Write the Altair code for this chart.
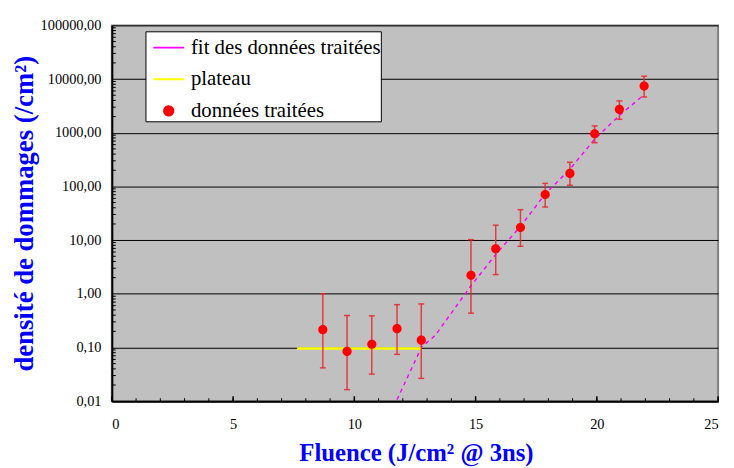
import altair as alt
import pandas as pd

# --- data ---
fluence = [8.70, 9.70, 10.72, 11.76, 12.76, 14.81, 15.83, 16.85, 17.87, 18.89, 19.91, 20.93, 21.95]
densite = [0.215, 0.0845, 0.115, 0.224, 0.137, 2.21, 6.88, 17.2, 70.8, 175, 953, 2720, 7400]
err_haut = [1.0, 0.394, 0.389, 0.628, 0.648, 10.2, 19.0, 36.9, 114, 282, 1340, 3920, 11300]
err_bas = [0.0417, 0.0164, 0.0319, 0.0745, 0.0266, 0.436, 2.28, 7.68, 41.3, 105, 651, 1780, 4640]

plateau_x = [7.64, 12.78]
plateau_y = [0.096, 0.096]

fit_x = [11.76, 12.78, 13.34, 14.81, 15.83, 16.85, 17.87, 18.89, 19.91, 20.93, 21.95]
fit_y = [0.0107, 0.103, 0.169, 1.41, 5.4, 18, 72, 210, 760, 2100, 5130]

series_names = ["fit des données traitées", "plateau", "données traitées"]
series_colors = ["#ff00ff", "#ffff00", "#ff0000"]
# small circle as a custom path (scaled by the symbol size), line symbols for the two curves
DOT = "M0.3,0 A0.3,0.3 0 1,1 -0.3,0 A0.3,0.3 0 1,1 0.3,0 Z"
series_shapes = ["stroke", "stroke", DOT]

y_tick_values = [0.01, 0.1, 1, 10, 100, 1000, 10000, 100000]
x_tick_values = [0, 5, 10, 15, 20, 25]
x_minor_values = list(range(0, 26))
y_minor_multipliers = [2, 3, 4, 5, 6, 7, 8, 9]

W, H = 613, 380
FONT = "Liberation Serif"
SYM = 961

pts = pd.DataFrame({"x": fluence, "y": densite, "hi": err_haut, "lo": err_bas,
                    "serie": series_names[2]})
plat = pd.DataFrame({"x": plateau_x, "y": plateau_y, "serie": series_names[1]})
fit = pd.DataFrame({"x": fit_x, "y": fit_y, "serie": series_names[0]})
xminor = pd.DataFrame({"x": x_minor_values})
xmajor = pd.DataFrame({"x": x_tick_values})
yminor = pd.DataFrame({"y": [m * d for d in y_tick_values[:-1] for m in y_minor_multipliers]})

xscale = alt.Scale(domain=[0, 25], nice=False)
yscale = alt.Scale(type="log", domain=[0.01, 100000], nice=False)

x_axis = alt.Axis(values=x_tick_values, format="d", grid=False, tickSize=0,
                  domainColor="#000000", domainWidth=2,
                  labelFont=FONT, labelFontSize=14.5, labelColor="#000000",
                  labelBaseline="alphabetic", labelPadding=28,
                  title="Fluence (J/cm² @ 3ns)", titleFont=FONT, titleFontSize=25,
                  titleFontWeight="bold", titleColor="#0000ff",
                  titleX=W / 2 + 1, titleY=60, titleAlign="center", titleBaseline="alphabetic")
y_axis = alt.Axis(values=y_tick_values,
                  labelExpr="replace(format(datum.value, '.2f'), '.', ',')",
                  grid=True, gridColor="#000000", gridWidth=1, tickSize=0,
                  domainColor="#000000", domainWidth=2,
                  labelFont=FONT, labelFontSize=14.5, labelColor="#000000", labelPadding=11,
                  title="densité de dommages (/cm²)", titleFont=FONT, titleFontSize=27,
                  titleFontWeight="bold", titleColor="#0000ff",
                  titleX=-80, titleY=H / 2, titleAngle=270, titleAlign="center",
                  titleBaseline="alphabetic")

legend = alt.Legend(
    title=None, orient="none", legendX=34, legendY=6,
    fillColor="#ffffff", strokeColor="#000000", padding=0, cornerRadius=0,
    symbolSize=SYM, symbolOffset=7, labelOffset=6, rowPadding=5,
    symbolStrokeWidth=2, symbolDash=[1, 0], symbolOpacity=1,
    labelFont=FONT, labelFontSize=21, labelColor="#000000", labelLimit=400,
)
color_enc = alt.Color("serie:N", scale=alt.Scale(domain=series_names, range=series_colors),
                      legend=legend)
shape_enc = alt.Shape("serie:N", scale=alt.Scale(domain=series_names, range=series_shapes),
                      legend=legend)

xminor_ticks = alt.Chart(xminor).mark_rule(color="#000000", strokeWidth=1).encode(
    x=alt.X("x:Q", scale=xscale), y=alt.value(H), y2=alt.value(H - 3))
xmajor_ticks = alt.Chart(xmajor).mark_rule(color="#000000", strokeWidth=1.5).encode(
    x=alt.X("x:Q", scale=xscale), y=alt.value(H), y2=alt.value(H - 5))
yminor_ticks = alt.Chart(yminor).mark_rule(color="#000000", strokeWidth=1).encode(
    y=alt.Y("y:Q", scale=yscale), x=alt.value(0), x2=alt.value(4))

fit_line = alt.Chart(fit).mark_line(strokeDash=[4, 4], strokeWidth=1.5).encode(
    x=alt.X("x:Q", scale=xscale, axis=x_axis), y=alt.Y("y:Q", scale=yscale, axis=y_axis),
    color=color_enc)
plat_line = alt.Chart(plat).mark_line(strokeWidth=2.5).encode(
    x=alt.X("x:Q", scale=xscale), y=alt.Y("y:Q", scale=yscale), color=color_enc)

ERR = "#e8242c"
err_rule = alt.Chart(pts).mark_rule(color=ERR, strokeWidth=1.5, opacity=0.85).encode(
    x=alt.X("x:Q", scale=xscale), y=alt.Y("lo:Q", scale=yscale), y2="hi:Q")
cap_hi = alt.Chart(pts).mark_tick(color=ERR, orient="horizontal", size=6, thickness=1.5,
                                  opacity=0.85).encode(
    x=alt.X("x:Q", scale=xscale), y=alt.Y("hi:Q", scale=yscale))
cap_lo = alt.Chart(pts).mark_tick(color=ERR, orient="horizontal", size=6, thickness=1.5,
                                  opacity=0.85).encode(
    x=alt.X("x:Q", scale=xscale), y=alt.Y("lo:Q", scale=yscale))
dots = alt.Chart(pts).mark_point(filled=True, opacity=1, size=SYM).encode(
    x=alt.X("x:Q", scale=xscale), y=alt.Y("y:Q", scale=yscale),
    color=color_enc, shape=shape_enc)

chart = alt.layer(
    fit_line, xminor_ticks, xmajor_ticks, yminor_ticks, plat_line,
    err_rule, cap_hi, cap_lo, dots
).properties(
    width=W, height=H,
    autosize=alt.AutoSizeParams(type="none"),
    padding={"left": 105, "top": 15, "right": 8, "bottom": 65},
).configure(
    background="#ffffff", font=FONT
).configure_view(
    fill="#c0c0c0", stroke="#808080", strokeWidth=2
).configure_axis(
    labelFont=FONT
).configure_legend(
    labelFont=FONT, labelLimit=400
)

chart.save("out.html", embed_options={"renderer": "svg", "actions": False})
